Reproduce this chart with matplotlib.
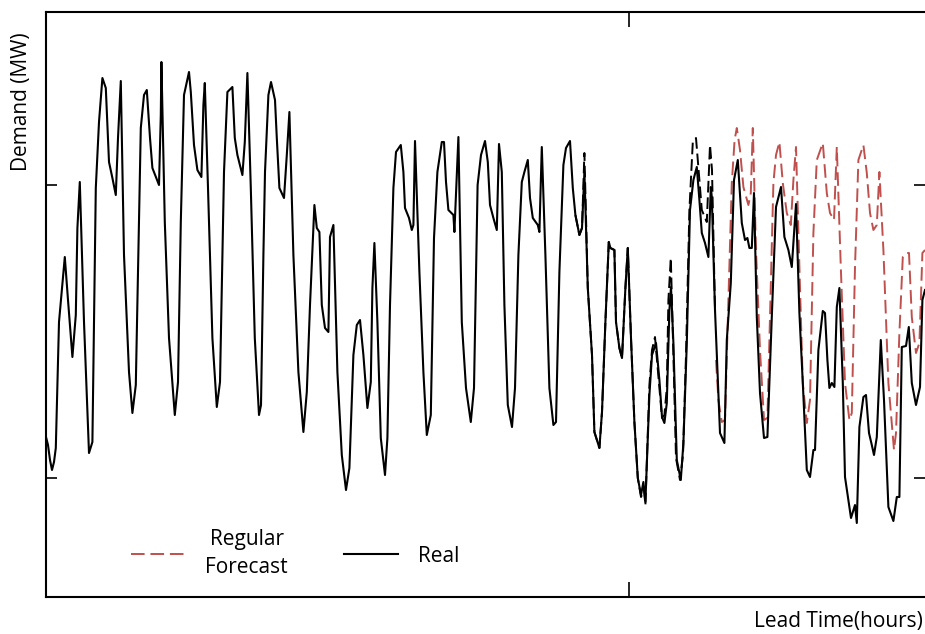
import matplotlib
matplotlib.use("Agg")
import matplotlib.pyplot as plt

# ---- data (lead time in hours, demand in MW) ----
real_hours = [0, 1, 2, 3, 4, 4.9, 5.5, 6.5, 8, 9.4, 11, 13.2, 14.9, 15.7, 16.9, 19, 21.5, 23.2,
    24.9, 26.5, 28.2, 29.9, 31.5, 33.2, 34.9, 36, 37.4, 39, 41.5, 43.2, 44.9, 47.4, 49, 50.4,
    52, 53.2, 56.5, 57.4, 57.7, 59.4, 61.5, 64.4, 66, 67.4, 69, 71.5, 72.4, 74, 75.7, 77.7,
    78.7, 79.4, 81, 83.2, 85.4, 87, 89, 90.7, 93.2, 94.4, 95.7, 98.2, 99.4, 100.7, 102.4,
    104.4, 106.5, 107.5, 108.7, 109.5, 111.2, 112.5, 114.5, 115.4, 116.7, 119, 120.4, 121.7,
    123.7, 126.2, 128.7, 130.4, 132, 134.2, 135.4, 136.7, 137.9, 139.5, 141.2, 142, 143.7,
    145.7, 147.9, 150, 151.7, 153.7, 155.4, 157, 158.7, 160.7, 162.4, 163.2, 164.2, 165.7,
    167.4, 169.5, 170.7, 172, 173.7, 175, 177.4, 178.7, 179.5, 181.5, 182.9, 183.7, 184.5,
    186.7, 188.7, 190.4, 192.4, 194, 195.7, 197.9, 199, 200, 201.2, 203.7, 204.2, 206.2,
    207.9, 210, 212.4, 214, 215.8, 217.5, 219.5, 220.9, 222, 223.7, 225.4, 226.5, 227.9,
    229.2, 230.9, 233, 234.5, 236.2, 237.9, 239.2, 240.9, 242, 243.4, 245.9, 246.7, 247.9,
    249.7, 251.7, 253.7, 255, 256.7, 258.7, 260, 262, 263.4, 264.7, 266.7, 268, 269.2, 270.9,
    273, 274.2, 276.7, 278, 279.7, 281.4, 282.2, 284.2, 285, 286.7, 288, 289.7, 290.9, 292.5,
    294.2, 295.9, 297.5, 298.7, 299.7, 301.7, 303, 305, 306.7, 308, 309.2, 310.4, 311.7,
    312.5, 313.7, 315.4, 317.4, 318.7, 320.4, 322, 323.7, 325.4, 326.7, 327.9, 329.5, 331.2,
    332.4, 332.9, 334.5, 336.2, 337, 339.2, 340.4, 342.4, 344, 345.9, 347.9, 349.5, 350.7,
    351.7, 352.9, 354, 355.4, 357, 359, 360.7, 362.9, 365, 367.5, 369.2, 371.2, 372.9, 375,
    376.7, 378.4, 380.4, 382, 383.7, 384.5, 386.2, 388.4, 389.5, 390.7, 391.7, 392.9, 394.2,
    395.4, 396.7, 398.4, 399.5, 401.2, 402.5, 404.5, 405.4, 406.7, 408.7, 410, 411.5, 412.9,
    414, 415.4, 417.4, 419, 421.2, 423.7, 425.4, 426.7, 427.9, 430, 431.4, 432.9, 435, 437,
    438.2, 439.5]
real_mw = [1630, 1550, 1400, 1300, 1380, 1520, 2000, 2780, 3120, 3430, 3000, 2430, 2850, 3720,
    4180, 2780, 1470, 1580, 4120, 4780, 5220, 5120, 4380, 4220, 4050, 4620, 5190, 3450, 2280,
    1870, 2150, 4720, 5050, 5100, 4620, 4320, 4150, 4850, 5380, 3780, 2620, 1850, 2180, 3780,
    5050, 5280, 5080, 4550, 4300, 4230, 4950, 5170, 4120, 2620, 1930, 2180, 4280, 5080, 5130,
    4620, 4450, 4250, 4580, 5270, 4120, 2620, 1850, 1950, 3450, 4280, 5050, 5180, 5000, 4620,
    4120, 4020, 4450, 4880, 3450, 2280, 1680, 2080, 2950, 3950, 3720, 3680, 2950, 2720, 2680,
    3630, 3750, 2280, 1450, 1100, 1320, 2450, 2750, 2800, 2450, 1920, 2180, 3120, 3570, 2780,
    1620, 1250, 1620, 2950, 4120, 4480, 4550, 4280, 3920, 3820, 3700, 3750, 4590, 3280, 2280,
    1650, 1850, 3620, 4280, 4580, 4580, 4180, 3900, 3850, 3680, 4630, 2780, 2120, 1780, 2120,
    4150, 4450, 4590, 4380, 3950, 3820, 3700, 4560, 4280, 2950, 1950, 1730, 2120, 3450, 4180,
    4280, 4400, 4020, 3820, 3750, 3680, 4530, 3450, 2120, 1750, 1780, 3280, 4350, 4520, 4590,
    4120, 3850, 3650, 3720, 4280, 3120, 2450, 1680, 1520, 1880, 2780, 3580, 3520, 3500, 2780,
    2520, 2420, 3120, 3520, 2620, 1780, 1220, 1050, 1180, 980, 2050, 2450, 2570, 2200, 1830,
    1770, 1970, 2900, 3130, 2570, 1400, 1200, 1570, 2570, 3900, 4200, 4330, 4000, 3670, 3570,
    3430, 4130, 4030, 2900, 2070, 1670, 1570, 2600, 3170, 4200, 4400, 3770, 3600, 3620, 3520,
    3520, 4070, 2830, 2070, 1620, 1630, 2830, 3930, 4130, 3630, 3500, 3330, 3960, 2870, 2170,
    1300, 1230, 1500, 1500, 2500, 2890, 2870, 2400, 2120, 2170, 2130, 2930, 3120, 2170, 1230,
    1000, 820, 950, 770, 1730, 2030, 2050, 1670, 1550, 1450, 1630, 2600, 2000, 930, 790, 1030,
    1030, 2530, 2540, 2730, 2170, 1950, 2130, 3000, 3100]

fit_hours = [264.7, 266.7, 268, 269.2, 270.9, 273, 274.2, 276.7, 278, 279.7, 281.4, 282.2,
    284.2, 285, 286.7, 288, 289.7, 290.9, 292.5, 294.2, 295.9, 297.5, 299, 299.7, 301.7, 303,
    304.5, 306.7, 308, 309.2, 310.4, 311.2, 312.4, 313.7, 315, 317, 318.5, 320, 321.7, 323.4,
    325, 326.7, 327.9, 330.4, 332, 333, 334.5]
fit_mw = [3850, 3650, 3720, 4470, 3120, 2450, 1680, 1520, 1880, 2780, 3580, 3520, 3500, 2780,
    2520, 2420, 3120, 3520, 2620, 1780, 1220, 1030, 1100, 950, 2150, 2500, 2630, 2120, 1820,
    1850, 2120, 3000, 3420, 2450, 1420, 1200, 1450, 2450, 3900, 4580, 4620, 4200, 3900, 3780,
    4550, 4300, 2900]

forecast_hours = [335, 336.2, 337.9, 339.5, 341.2, 342.9, 344.3, 345.4, 347, 348.7, 351.2,
    352.4, 353.4, 355, 357, 359, 360.7, 362, 363.7, 365, 366.7, 368.4, 370.4, 372.4, 373.7,
    375, 376.7, 378.4, 380.4, 382, 383.7, 385.4, 388.4, 390.4, 392, 394, 395.4, 397.4, 399.5,
    401.7, 402.9, 404.5, 406.2, 408.7, 410.4, 412, 413.7, 415.4, 416.7, 418.7, 421.2, 424,
    425, 426.7, 428.4, 430, 431.5, 432.9, 435, 436.7, 438.2, 439.5]
forecast_mw = [2400, 2000, 1780, 1800, 3000, 4170, 4600, 4720, 4500, 4130, 3950, 4070, 4720,
    3500, 2500, 1800, 1820, 2830, 4170, 4450, 4580, 4170, 3870, 3750, 4200, 4530, 3330, 2170,
    1770, 2000, 3670, 4400, 4570, 4070, 3870, 3800, 4530, 3330, 2170, 1800, 1870, 3330, 4400,
    4550, 4270, 3870, 3700, 3750, 4280, 3500, 2170, 1500, 1670, 2670, 3430, 3470, 3470, 2830,
    2470, 2570, 3470, 3500]

y_ticks = [1220, 4150]
x_ticks = [291.5]

RED = "#C0504D"
FONT = "Open Sans"
FS = 15

fig = plt.figure(figsize=(9.25, 6.34), dpi=100)
ax = fig.add_axes([46 / 925, 1 - 597 / 634, 1 - 46 / 925, (597 - 12) / 634])

ax.plot(fit_hours, fit_mw, color="black", lw=1.4, ls=(0, (6, 2.5)))
l_fc, = ax.plot(forecast_hours, forecast_mw, color=RED, lw=1.4, ls=(0, (7, 3)),
                label="Regular\nForecast")
l_real, = ax.plot(real_hours, real_mw, color="black", lw=1.5, label="Real")

ax.set_xlim(0, 439.5)
ax.set_ylim(30, 5880)
ax.set_xticks(x_ticks)
ax.set_yticks(y_ticks)
ax.tick_params(direction="in", left=True, right=True, top=True, bottom=True,
               labelleft=False, labelbottom=False, width=1.2, length=8, color="black")
ax.tick_params(axis="x", length=11)
for s in ["left", "top", "bottom"]:
    ax.spines[s].set_linewidth(1.5)
ax.spines["right"].set_visible(False)

leg = ax.legend(handles=[l_fc, l_real], loc="lower left", bbox_to_anchor=(0.0804, 0.007),
                ncol=2, frameon=False, handlelength=2.6, handletextpad=0.95,
                columnspacing=2.7, borderaxespad=0.3, prop={"family": FONT, "size": FS})
for t in leg.get_texts():
    t.set_multialignment("center")
    t.set_linespacing(1.45)

fig.text(22 / 925, 1 - 102 / 634, "Demand (MW)", rotation=90, ha="center", va="center",
         family=FONT, size=FS)
fig.text(838 / 925, 1 - 622 / 634, "Lead Time(hours)", ha="center", va="center",
         family=FONT, size=FS)

fig.savefig("out.png", dpi=100)
